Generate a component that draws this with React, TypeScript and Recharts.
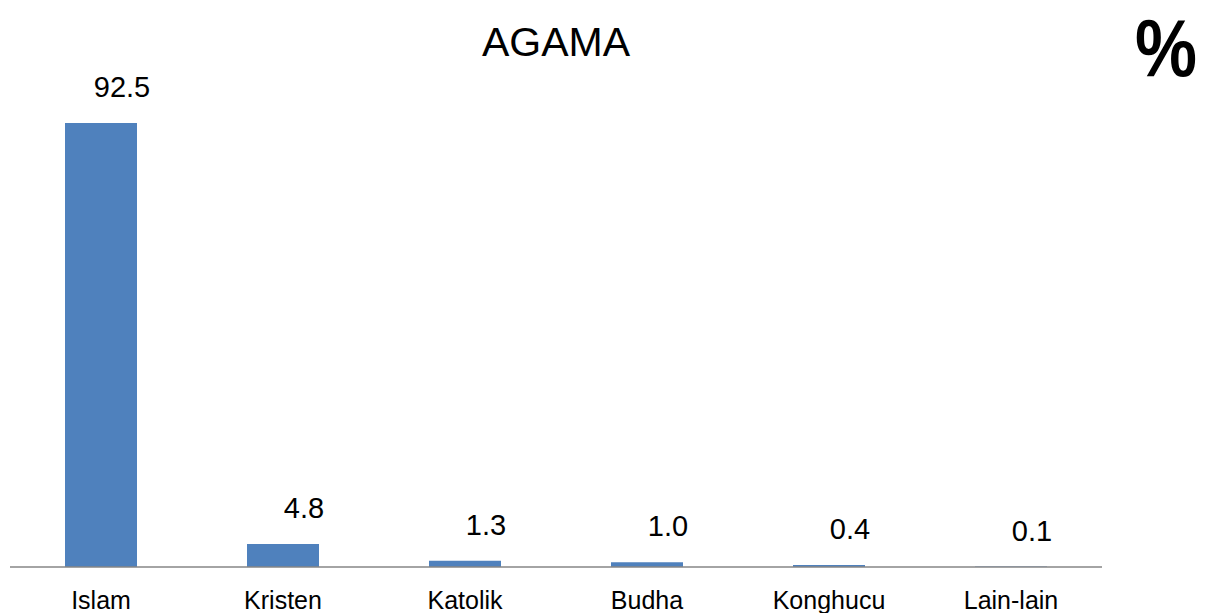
import React from "react";
import { BarChart, Bar, XAxis, YAxis, LabelList } from "recharts";

const categories = ["Islam", "Kristen", "Katolik", "Budha", "Konghucu", "Lain-lain"];
const values = [92.5, 4.8, 1.3, 1.0, 0.4, 0.1];
const title = "AGAMA";
const unit = "%";

const data = categories.map((c, i) => ({ name: c, value: values[i] }));

const FONT = "'Liberation Sans', Arial, sans-serif";

const ValueLabel = (props: any) => {
  const { x, y, width, value } = props;
  return (
    <text
      x={x + width / 2 + 21}
      y={y - 36}
      textAnchor="middle"
      dominantBaseline="central"
      fontFamily={FONT}
      fontSize={29}
      fill="#000"
    >
      {Number(value).toFixed(1)}
    </text>
  );
};

const Tick = (props: any) => {
  const { x, y, payload } = props;
  return (
    <text
      x={x}
      y={y + 25}
      textAnchor="middle"
      dominantBaseline="central"
      fontFamily={FONT}
      fontSize={25}
      fill="#000"
    >
      {payload.value}
    </text>
  );
};

export default function App() {
  return (
    <div style={{ position: "absolute", left: 0, top: 0, width: 1207, height: 613, background: "#fff" }}>
      <svg style={{ position: "absolute", left: 0, top: 0 }} width={1207} height={100}>
        <text
          x={556}
          y={56}
          textAnchor="middle"
          fontFamily={FONT}
          fontSize={41}
          fill="#000"
        >
          {title}
        </text>
        <text
          transform="translate(1166,76) scale(0.85,1)"
          x={0}
          y={0}
          textAnchor="middle"
          fontFamily={FONT}
          fontWeight="bold"
          fontSize={82}
          fill="#000"
        >
          {unit}
        </text>
      </svg>
      <BarChart
        width={1207}
        height={613}
        data={data}
        margin={{ top: 87, right: 105, bottom: 0, left: 10 }}
        barSize={72}
        style={{ position: "absolute", left: 0, top: 0 }}
      >
        <XAxis
          dataKey="name"
          axisLine={{ stroke: "#868686", strokeWidth: 1.5 }}
          tickLine={false}
          tick={<Tick />}
          height={46}
          interval={0}
        />
        <YAxis hide domain={[0, 100]} />
        <Bar dataKey="value" fill="#4F81BD" isAnimationActive={false}>
          <LabelList dataKey="value" content={<ValueLabel />} />
        </Bar>
      </BarChart>
    </div>
  );
}
